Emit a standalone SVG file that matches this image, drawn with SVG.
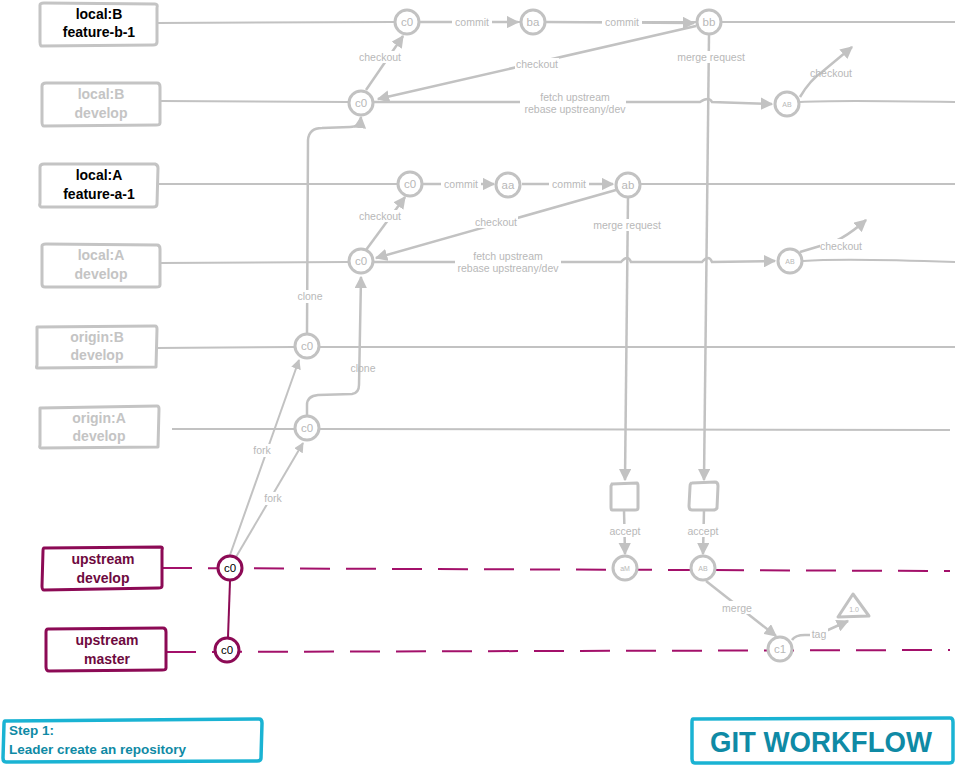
<svg xmlns="http://www.w3.org/2000/svg" width="963" height="774" viewBox="0 0 963 774">
<style>
  .box{fill:#fff;stroke:#c4c4c4;stroke-width:3;stroke-linejoin:round}
  .ubox{fill:#fff;stroke:#8c0a55;stroke-width:3;stroke-linejoin:round}
  .lane{fill:none;stroke:#c2c2c2;stroke-width:2}
  .ulane{fill:none;stroke:#a3106a;stroke-width:2;stroke-dasharray:30 16}
  .con{fill:none;stroke:#c2c2c2;stroke-width:2.5}
  .node{fill:#fff;stroke:#c2c2c2;stroke-width:3}
  .unode{fill:#fff;stroke:#8c0a55;stroke-width:3}
  .bt{font-family:"Liberation Sans",Arial,sans-serif;font-weight:bold;font-size:14px;text-anchor:middle}
  .blk{fill:#000}
  .gry{fill:#c4c4c4}
  .mag{fill:#6e0a40}
  .lbl{font-family:"Liberation Sans",Arial,sans-serif;font-size:10.5px;fill:#b8b8b8;text-anchor:middle}
  .nt{font-family:"Liberation Sans",Arial,sans-serif;font-size:11.5px;fill:#b8b8b8;text-anchor:middle}
  .st{font-family:"Liberation Sans",Arial,sans-serif;font-size:7px;fill:#b8b8b8;text-anchor:middle}
  .bg{fill:#fff}
  .step{fill:#fff;stroke:#1ab3d3;stroke-width:3.5}
  .tt{font-family:"Liberation Sans",Arial,sans-serif;font-weight:bold;fill:#0f8aa5}
</style>
<defs>
  <marker id="ah" viewBox="0 0 10 10" refX="9" refY="5" markerWidth="5" markerHeight="5" orient="auto" markerUnits="strokeWidth">
    <path d="M0,0 L10,5 L0,10 z" fill="#c2c2c2"/>
  </marker>
</defs>

<!-- lanes -->
<g id="lanes">
  <path class="lane" d="M157,23 L394,22 M420,22 L520,22 M546,22 L696,22 M722,22 L955,22"/>
  <path class="lane" d="M160,101 L348,102"/>
  <path class="lane" d="M157,184 L397,184 M641,184 L955,184"/>
  <path class="lane" d="M160,263 L348,262"/>
  <path class="lane" d="M156,348 L294,347 M320,347 L955,347"/>
  <path class="lane" d="M172,429 L294,429 M320,429 L950,430"/>
  <path class="lane" d="M800,102 C830,100 900,101 955,102"/>
  <path class="lane" d="M803,261 C840,258 900,260 955,262"/>
  <path class="ulane" d="M162,568 L950,571"/>
  <path class="ulane" d="M166,652 L950,650"/>
</g>

<!-- connectors -->
<g id="connectors">
  <!-- local:B -->
  <path class="con" marker-end="url(#ah)" d="M366,90 L403,36"/>
  <path class="con" marker-end="url(#ah)" d="M420,22 L518,22"/>
  <path class="con" marker-end="url(#ah)" d="M546,22 L694,23"/>
  <path class="con" marker-end="url(#ah)" d="M696,26 L378,99"/>
  <path class="con" marker-end="url(#ah)" d="M374,102 L700,102 Q709,96 712,102 L772,104"/>
  <path class="con" marker-end="url(#ah)" d="M800,97 Q810,80 822,72 L852,47"/>
  <!-- local:A -->
  <path class="con" marker-end="url(#ah)" d="M366,250 L405,197"/>
  <path class="con" marker-end="url(#ah)" d="M423,184 L494,184"/>
  <path class="con" marker-end="url(#ah)" d="M522,184 L613,184"/>
  <path class="con" marker-end="url(#ah)" d="M616,190 L376,258"/>
  <path class="con" marker-end="url(#ah)" d="M374,262 L621,262 Q628,254 631,262 L702,262 Q709,254 712,262 L775,261"/>
  <path class="con" marker-end="url(#ah)" d="M800,252 L820,246 Q840,243 866,220"/>
  <!-- merge requests -->
  <path class="con" marker-end="url(#ah)" d="M628,197 L625,480"/>
  <path class="con" marker-end="url(#ah)" d="M709,35 L704,480"/>
  <!-- clone -->
  <path class="con" marker-end="url(#ah)" d="M307,334 L308,140 Q309,128 322,128 L350,127 Q360,127 361,117"/>
  <path class="con" marker-end="url(#ah)" d="M307,416 L307,405 Q307,396 318,395 L352,394 Q359,393 359,385 L361,277"/>
  <!-- fork -->
  <path class="con" marker-end="url(#ah)" style="stroke-width:2" d="M230,555 L299,360"/>
  <path class="con" marker-end="url(#ah)" style="stroke-width:2" d="M236,557 L303,443"/>
  <!-- accept -->
  <path class="con" marker-end="url(#ah)" d="M624,510 L625,554"/>
  <path class="con" marker-end="url(#ah)" d="M704,510 L703,554"/>
  <!-- merge / tag -->
  <path class="con" marker-end="url(#ah)" d="M706,581 L776,636"/>
  <path class="con" marker-end="url(#ah)" d="M792,640 Q795,635 805,635 L817,635 L848,621"/>
  <!-- upstream develop to master -->
  <path fill="none" stroke="#8c0a55" stroke-width="2" d="M230,581 L228,637"/>
</g>

<!-- connector labels -->
<g id="labels">
  <rect class="bg" x="452" y="15" width="40" height="13"/>
  <text class="lbl" x="472" y="26">commit</text>
  <rect class="bg" x="602" y="15" width="40" height="13"/>
  <text class="lbl" x="622" y="26">commit</text>
  <rect class="bg" x="358" y="51" width="44" height="12"/>
  <text class="lbl" x="380" y="61">checkout</text>
  <rect class="bg" x="515" y="58" width="44" height="12"/>
  <text class="lbl" x="537" y="68">checkout</text>
  <rect class="bg" x="676" y="51" width="70" height="12"/>
  <text class="lbl" x="711" y="61">merge request</text>
  <rect class="bg" x="520" y="91" width="106" height="24"/>
  <text class="lbl" x="575" y="101">fetch upstream</text>
  <text class="lbl" x="575" y="113">rebase upstreany/dev</text>
  <text class="lbl" x="831" y="77">checkout</text>

  <rect class="bg" x="441" y="177" width="40" height="13"/>
  <text class="lbl" x="461" y="188">commit</text>
  <rect class="bg" x="549" y="177" width="40" height="13"/>
  <text class="lbl" x="569" y="188">commit</text>
  <rect class="bg" x="358" y="210" width="44" height="12"/>
  <text class="lbl" x="380" y="220">checkout</text>
  <rect class="bg" x="474" y="216" width="44" height="12"/>
  <text class="lbl" x="496" y="226">checkout</text>
  <rect class="bg" x="592" y="219" width="70" height="12"/>
  <text class="lbl" x="627" y="229">merge request</text>
  <rect class="bg" x="455" y="250" width="106" height="24"/>
  <text class="lbl" x="508" y="260">fetch upstream</text>
  <text class="lbl" x="508" y="272">rebase upstreany/dev</text>
  <rect class="bg" x="820" y="239" width="42" height="13"/>
  <text class="lbl" x="841" y="250">checkout</text>

  <rect class="bg" x="296" y="290" width="28" height="13"/>
  <text class="lbl" x="310" y="300">clone</text>
  <text class="lbl" x="363" y="372">clone</text>
  <rect class="bg" x="250" y="444" width="24" height="13"/>
  <text class="lbl" x="262" y="454">fork</text>
  <rect class="bg" x="262" y="492" width="24" height="13"/>
  <text class="lbl" x="273" y="502">fork</text>
  <rect class="bg" x="606" y="524" width="38" height="13"/>
  <text class="lbl" x="625" y="535">accept</text>
  <rect class="bg" x="684" y="524" width="38" height="13"/>
  <text class="lbl" x="703" y="535">accept</text>
  <rect class="bg" x="720" y="601" width="34" height="13"/>
  <text class="lbl" x="737" y="612">merge</text>
  <rect class="bg" x="810" y="627" width="18" height="13"/>
  <text class="lbl" x="819" y="638">tag</text>
</g>

<!-- branch label boxes -->
<g id="box-localB-feature">
  <path class="box" d="M40,5 Q40,3 44,3 L155,4 Q158,4 157,8 L157,42 Q157,45 153,45 L41,46 Q40,45 40,42 Z"/>
  <text class="bt blk" x="99" y="19">local:B</text>
  <text class="bt blk" x="99" y="37">feature-b-1</text>
</g>
<g id="box-localB-develop">
  <path class="box" d="M42,86 Q42,83 46,83 L157,83 Q160,83 160,87 L160,123 Q160,125 156,125 L44,126 Q42,126 42,122 Z"/>
  <text class="bt gry" x="101" y="99">local:B</text>
  <text class="bt gry" x="101" y="118">develop</text>
</g>
<g id="box-localA-feature">
  <path class="box" d="M40,167 Q40,164 44,164 L155,164 Q158,165 158,168 L157,204 Q157,207 153,207 L41,207 Q39,206 40,203 Z"/>
  <text class="bt blk" x="99" y="180">local:A</text>
  <text class="bt blk" x="99" y="199">feature-a-1</text>
</g>
<g id="box-localA-develop">
  <path class="box" d="M42,246 Q42,244 46,244 L157,245 Q160,245 160,249 L160,285 Q160,287 156,287 L45,287 Q42,287 42,284 Z"/>
  <text class="bt gry" x="101" y="260">local:A</text>
  <text class="bt gry" x="101" y="279">develop</text>
</g>
<g id="box-originB">
  <path class="box" d="M37,327 L155,326 Q157,326 157,329 L156,367 L37,368 Q36,368 37,365 Z"/>
  <text class="bt gry" x="97" y="342">origin:B</text>
  <text class="bt gry" x="97" y="360">develop</text>
</g>
<g id="box-originA">
  <path class="box" d="M40,408 L157,406 Q159,406 159,409 L158,447 L41,448 Q39,448 40,445 Z"/>
  <text class="bt gry" x="99" y="423">origin:A</text>
  <text class="bt gry" x="99" y="441">develop</text>
</g>
<g id="box-upstream-develop">
  <path class="ubox" d="M44,548 L161,547 Q163,547 162,550 L162,586 Q162,588 158,588 L44,590 Q42,590 42,586 L43,551 Q43,548 44,548 Z"/>
  <text class="bt mag" x="103" y="564">upstream</text>
  <text class="bt mag" x="103" y="583">develop</text>
</g>
<g id="box-upstream-master">
  <path class="ubox" d="M48,629 L163,628 Q166,628 166,632 L166,668 Q166,670 162,670 L49,671 Q46,671 46,667 L46,632 Q46,629 48,629 Z"/>
  <text class="bt mag" x="107" y="645">upstream</text>
  <text class="bt mag" x="107" y="664">master</text>
</g>

<!-- commit nodes -->
<g id="n-b-c0"><circle class="node" cx="407" cy="22" r="12"/><text class="nt" x="407" y="26">c0</text></g>
<g id="n-b-ba"><circle class="node" cx="533" cy="22" r="12"/><text class="nt" x="533" y="26">ba</text></g>
<g id="n-b-bb"><circle class="node" cx="709" cy="22" r="12"/><text class="nt" x="709" y="26">bb</text></g>
<g id="n-bd-c0"><circle class="node" cx="361" cy="103" r="12"/><text class="nt" x="361" y="107">c0</text></g>
<g id="n-bd-AB"><circle class="node" cx="787" cy="104" r="12"/><text class="st" x="787" y="107">AB</text></g>
<g id="n-a-c0"><circle class="node" cx="410" cy="184" r="12"/><text class="nt" x="410" y="188">c0</text></g>
<g id="n-a-aa"><circle class="node" cx="508" cy="185" r="12"/><text class="nt" x="508" y="189">aa</text></g>
<g id="n-a-ab"><circle class="node" cx="628" cy="185" r="12"/><text class="nt" x="628" y="189">ab</text></g>
<g id="n-ad-c0"><circle class="node" cx="361" cy="261" r="12"/><text class="nt" x="361" y="265">c0</text></g>
<g id="n-ad-AB"><circle class="node" cx="790" cy="261" r="12"/><text class="st" x="790" y="264">AB</text></g>
<g id="n-ob-c0"><circle class="node" cx="307" cy="346" r="12"/><text class="nt" x="307" y="350">c0</text></g>
<g id="n-oa-c0"><circle class="node" cx="307" cy="428" r="12"/><text class="nt" x="307" y="432">c0</text></g>
<g id="n-ud-c0"><circle class="unode" cx="230" cy="568" r="12"/><text class="nt" style="fill:#000" x="230" y="572">c0</text></g>
<g id="n-um-c0"><circle class="unode" cx="227" cy="650" r="12"/><text class="nt" style="fill:#000" x="227" y="654">c0</text></g>
<g id="n-mr-a"><path class="node" d="M612,484 L637,483 Q638,483 638,486 L638,508 Q638,510 635,510 L612,510 Q611,510 611,507 L611,486 Z"/></g>
<g id="n-mr-b"><path class="node" d="M692,483 L715,482 Q718,482 718,486 L717,508 Q716,510 713,510 L692,510 Q689,510 689,506 L690,487 Q690,483 692,483 Z"/></g>
<g id="n-ud-aM"><circle class="node" cx="625" cy="568" r="12"/><text class="st" x="625" y="571">aM</text></g>
<g id="n-ud-AB"><circle class="node" cx="703" cy="568" r="12"/><text class="st" x="703" y="571">AB</text></g>
<g id="n-um-c1"><circle class="node" cx="780" cy="649" r="12"/><text class="nt" x="780" y="653">c1</text></g>
<g id="n-tag"><path class="node" d="M853,594 L869,616 L838,617 Z" stroke-linejoin="round"/><text class="st" x="854" y="612">1.0</text></g>

<!-- captions -->
<g id="step">
  <path class="step" d="M5,721 L259,719 Q262,719 262,723 L261,758 Q261,761 257,761 L6,762 Q3,762 3,758 L4,724 Q4,721 5,721 Z"/>
  <text class="tt" font-size="13.5" x="9" y="735">Step 1:</text>
  <text class="tt" font-size="13.5" x="9" y="754">Leader create an repository</text>
</g>
<g id="title">
  <path class="step" d="M693,719 L950,718 Q953,718 953,722 L953,760 Q953,763 949,763 L695,763 Q692,763 692,759 L692,722 Q692,719 693,719 Z"/>
  <text class="tt" font-size="29" x="710" y="752" textLength="222" lengthAdjust="spacingAndGlyphs">GIT WORKFLOW</text>
</g>
</svg>
